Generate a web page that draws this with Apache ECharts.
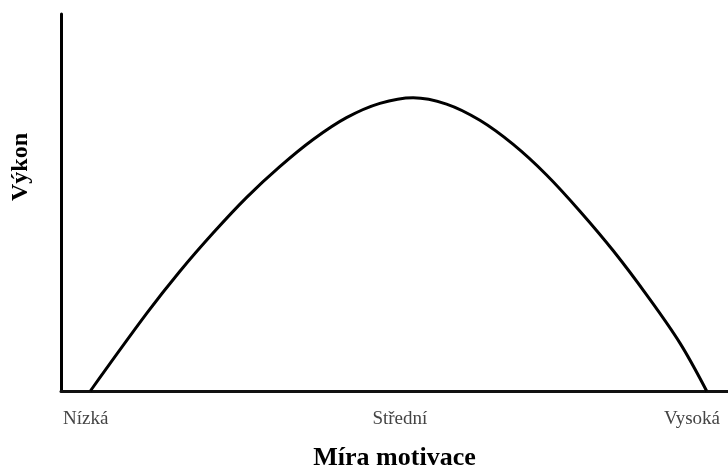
<!DOCTYPE html>
<html>
<head>
<meta charset="utf-8">
<script src="https://cdn.jsdelivr.net/npm/echarts@6/dist/echarts.min.js"></script>
<style>
html,body{margin:0;padding:0;background:#fff;}
#c{width:728px;height:468px;}
</style>
</head>
<body>
<div id="c"></div>
<script>
// Motivation level (x, 0-100 scale) and performance (y, 0-100 scale)
const motivation = [4.4, 12.9, 17.8, 22.8, 27.8, 32.8, 37.8, 42.8, 47.8, 52.8, 57.8, 62.8, 67.8, 72.8, 77.8, 82.8, 87.8, 92.8, 96.8];
const performance = [0, 20.7, 31.7, 41.9, 51.3, 59.5, 66.7, 72.5, 76.3, 77.8, 76.1, 71.8, 65.4, 57.3, 47.7, 37.2, 25.5, 12.7, 0];
const tickLabels = ['Nízká', 'Střední', 'Vysoká'];
const tickPositions = [3.7, 50.8, 94.6];
const xTitle = 'Míra motivace';
const yTitle = 'Výkon';

const serif = '"Liberation Serif", "DejaVu Serif", serif';
const chart = echarts.init(document.getElementById('c'), null, {renderer: 'canvas'});
chart.setOption({
  animation: false,
  backgroundColor: '#fff',
  grid: {left: 61, right: 0, top: 14, bottom: 77, containLabel: false, outerBoundsMode: 'none'},
  xAxis: {
    type: 'value', min: 0, max: 100,
    name: xTitle, nameLocation: 'middle', nameGap: 54,
    nameTextStyle: {fontFamily: serif, fontWeight: 'bold', fontSize: 26, color: '#000'},
    axisLine: {show: true, lineStyle: {color: '#111', width: 3}},
    axisTick: {show: false},
    splitLine: {show: false},
    axisLabel: {
      customValues: tickPositions,
      margin: 19,
      fontFamily: serif, fontSize: 19, color: '#444',
      formatter: function (v) {
        const i = tickPositions.indexOf(v);
        return i >= 0 ? tickLabels[i] : '';
      }
    }
  },
  yAxis: {
    type: 'value', min: 0, max: 100,
    axisLine: {show: true, lineStyle: {color: '#000', width: 3}},
    axisTick: {show: false},
    axisLabel: {show: false},
    splitLine: {show: false}
  },
  graphic: [{
    type: 'text', x: 21, y: 167, rotation: Math.PI / 2,
    style: {text: yTitle, fontFamily: serif, fontWeight: 'bold', fontSize: 24, fill: '#000', align: 'center', verticalAlign: 'middle'}
  }],
  series: [{
    type: 'line',
    data: motivation.map((x, i) => [x, performance[i]]),
    smooth: 0.35,
    showSymbol: false,
    lineStyle: {color: '#000', width: 3}
  }]
});
</script>
</body>
</html>
